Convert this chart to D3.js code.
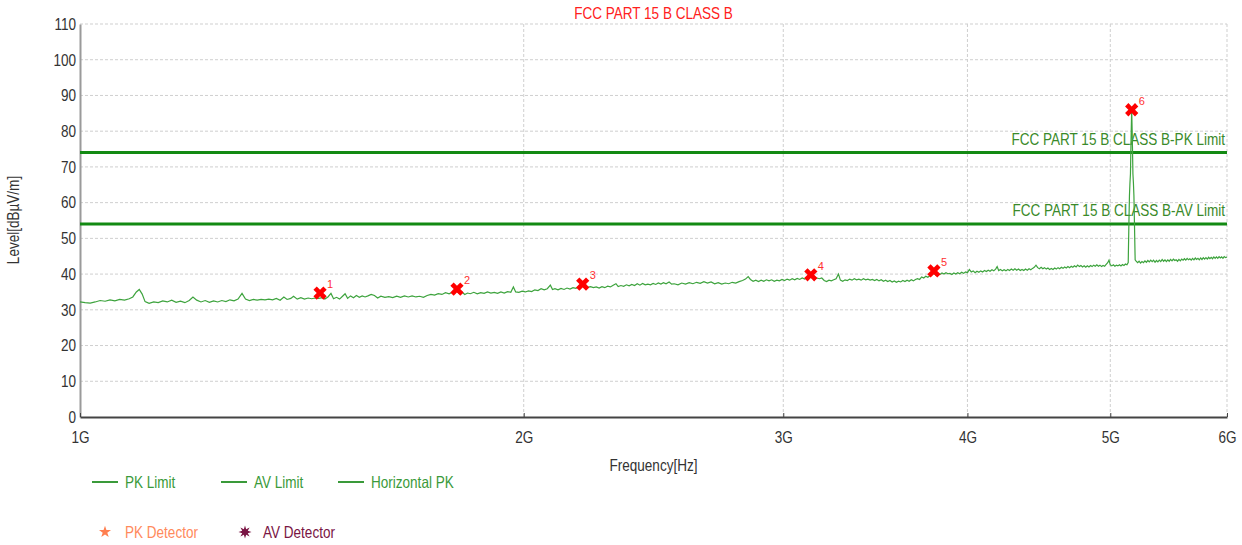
<!DOCTYPE html>
<html>
<head>
<meta charset="utf-8">
<script src="https://cdn.jsdelivr.net/npm/d3@7"></script>
<style>
  html, body { margin: 0; padding: 0; background: #fff; }
  svg { display: block; }
  text { font-family: "Liberation Sans Narrow", "Arial Narrow", "Liberation Sans", Arial, sans-serif; }
</style>
</head>
<body>
<svg id="chart" width="1242" height="545"></svg>
<script>
// ---------------- data ----------------
const chartTitle = "FCC PART 15 B CLASS B";
const xTickMHz = [1000, 2000, 3000, 4000, 5000, 6000];
const xTickLabels = ["1G", "2G", "3G", "4G", "5G", "6G"];
const yTicks = [0, 10, 20, 30, 40, 50, 60, 70, 80, 90, 100, 110];

const pkLimit = 74;
const avLimit = 54;
const pkLimitLabel = "FCC PART 15 B CLASS B-PK Limit";
const avLimitLabel = "FCC PART 15 B CLASS B-AV Limit";

// Horizontal PK trace: [frequency MHz, level dBµV/m]
const horizontalPK = [
[1000,32.2],[1008,32.0],[1016,31.9],[1024,32.2],[1032,32.6],[1040,32.4],[1048,32.8],[1056,32.5],[1064,32.9],[1072,32.7],
[1080,33.1],[1086,33.6],[1092,35.0],[1097,35.7],[1102,34.4],[1107,32.3],[1114,31.8],[1122,32.2],[1130,32.0],[1138,32.5],
[1146,32.2],[1154,32.7],[1162,32.1],[1170,32.4],[1178,32.0],[1186,32.6],[1193,33.6],[1200,32.7],[1208,32.2],[1216,32.6],
[1224,32.1],[1232,32.5],[1240,32.2],[1248,32.6],[1256,32.3],[1264,32.8],[1272,32.5],[1280,33.0],[1288,34.6],[1295,33.0],
[1303,32.6],[1311,32.9],[1319,32.7],[1327,32.9],[1335,32.8],[1343,33.0],[1351,32.8],[1359,33.2],[1367,32.7],[1375,33.6],
[1382,32.9],[1390,33.2],[1396,33.8],[1404,33.0],[1412,33.4],[1420,33.0],[1428,33.3],[1436,33.1],[1444,33.3],[1452,33.2],
[1460,33.4],[1466,33.0],[1473,33.6],[1480,34.6],[1486,33.1],[1493,33.5],[1500,33.0],[1507,33.8],[1513,34.5],[1519,33.2],
[1526,33.9],[1533,33.4],[1540,34.0],[1547,33.5],[1554,33.9],[1561,33.6],[1568,33.9],[1576,34.3],[1584,34.0],[1592,33.3],
[1600,33.8],[1610,33.5],[1620,33.7],[1630,33.4],[1640,33.8],[1650,33.5],[1660,33.9],[1670,33.6],[1680,33.9],[1690,33.6],
[1700,33.8],[1710,33.5],[1720,34.0],[1730,34.3],[1740,34.1],[1750,34.5],[1760,34.3],[1770,34.8],[1780,34.5],[1790,35.0],
[1800,35.3],[1808,34.6],[1816,35.0],[1824,34.3],[1832,34.7],[1840,34.5],[1850,34.9],[1860,34.5],[1870,34.8],[1880,34.6],
[1890,35.0],[1900,34.7],[1910,34.9],[1920,34.6],[1930,35.0],[1940,34.7],[1950,35.1],[1960,34.9],[1968,36.4],[1975,35.0],
[1985,34.9],[1995,35.2],[2005,35.0],[2015,35.3],[2025,35.1],[2035,35.6],[2045,35.4],[2055,35.9],[2065,35.6],[2075,35.9],
[2085,36.9],[2092,35.7],[2100,35.9],[2110,35.6],[2120,36.0],[2130,35.7],[2140,36.1],[2150,35.8],[2160,36.2],[2170,36.0],
[2180,36.5],[2190,36.8],[2200,36.6],[2210,36.3],[2220,36.5],[2230,36.2],[2240,36.4],[2250,36.1],[2260,36.5],[2270,36.2],
[2280,36.6],[2290,36.4],[2300,36.9],[2310,37.3],[2318,36.5],[2328,36.8],[2338,36.6],[2348,37.0],[2358,36.7],[2368,37.1],
[2378,36.8],[2388,37.3],[2398,36.9],[2408,37.4],[2418,37.0],[2428,37.2],[2438,37.0],[2448,37.4],[2458,37.1],[2468,37.5],
[2478,37.2],[2488,37.6],[2498,37.3],[2510,37.8],[2520,37.2],[2530,37.3],[2545,37.0],[2560,37.5],[2575,37.2],[2590,37.6],
[2605,37.3],[2620,37.7],[2635,37.4],[2650,37.9],[2665,37.5],[2680,37.8],[2695,37.3],[2710,37.6],[2725,37.2],[2740,37.5],
[2755,37.3],[2770,37.7],[2785,37.5],[2800,37.9],[2815,38.2],[2828,38.6],[2840,39.3],[2850,38.5],[2862,38.0],[2874,38.3],
[2886,37.9],[2898,38.3],[2910,38.0],[2922,38.4],[2934,38.1],[2946,38.4],[2958,38.0],[2970,38.3],[2982,38.1],[2994,38.5],
[3006,38.2],[3018,38.6],[3030,38.3],[3042,38.7],[3054,38.4],[3066,38.8],[3078,38.5],[3090,38.9],[3102,38.6],[3114,39.0],
[3126,39.4],[3138,38.9],[3150,38.6],[3162,38.9],[3174,38.7],[3186,38.9],[3198,38.2],[3210,37.9],[3222,38.3],[3234,38.1],
[3246,38.4],[3258,38.7],[3270,40.0],[3280,38.3],[3292,38.0],[3304,38.4],[3316,38.2],[3328,38.6],[3340,38.3],[3352,38.7],
[3364,38.4],[3376,38.6],[3388,38.3],[3400,38.7],[3412,38.4],[3424,38.6],[3436,38.3],[3448,38.5],[3460,38.2],[3472,38.5],
[3484,38.1],[3496,38.4],[3508,38.0],[3520,38.3],[3532,37.9],[3544,38.2],[3556,37.8],[3568,38.1],[3580,37.7],[3592,38.0],
[3604,37.8],[3616,38.2],[3628,37.9],[3640,38.3],[3652,38.0],[3664,38.4],[3676,38.1],[3688,38.5],[3700,38.7],[3712,38.5],
[3724,39.2],[3736,38.9],[3748,39.4],[3760,39.1],[3772,39.5],[3784,39.8],[3796,40.2],[3808,39.7],[3820,40.1],[3832,39.9],
[3844,40.3],[3856,40.0],[3868,40.4],[3880,40.1],[3892,40.2],[3904,39.9],[3916,40.3],[3928,40.0],[3940,40.4],[3952,40.1],
[3964,40.5],[3976,40.2],[3988,40.6],[4000,40.4],[4012,41.3],[4024,40.6],[4036,40.9],[4048,40.4],[4060,40.8],[4072,40.5],
[4084,40.9],[4096,40.6],[4108,41.0],[4120,40.7],[4132,41.1],[4144,40.8],[4156,41.2],[4168,40.9],[4180,41.4],[4190,42.1],
[4200,41.0],[4212,41.3],[4224,40.9],[4236,41.2],[4248,40.9],[4260,41.3],[4272,41.0],[4284,41.4],[4296,41.1],[4308,41.5],
[4320,41.1],[4332,41.4],[4344,41.0],[4356,41.3],[4368,41.0],[4380,41.4],[4392,41.1],[4404,41.5],[4416,41.2],[4428,41.6],
[4440,41.9],[4452,42.5],[4464,41.8],[4476,41.5],[4488,41.9],[4500,41.5],[4512,41.8],[4524,41.4],[4536,41.7],[4548,41.3],
[4560,41.6],[4572,41.3],[4584,41.7],[4596,41.4],[4608,41.8],[4620,41.5],[4632,41.9],[4644,41.6],[4656,42.0],[4668,41.7],
[4680,42.1],[4692,41.8],[4704,42.2],[4716,41.9],[4728,42.3],[4740,42.0],[4752,42.5],[4764,42.1],[4776,42.4],[4788,42.0],
[4800,42.3],[4812,41.9],[4824,42.3],[4836,42.0],[4848,42.4],[4860,42.1],[4872,42.5],[4884,42.2],[4896,42.6],[4908,42.2],
[4920,42.5],[4932,42.1],[4944,42.4],[4956,42.2],[4968,42.7],[4980,43.2],[4990,43.9],[5000,42.6],[5012,42.3],[5024,42.6],
[5036,42.2],[5048,42.5],[5060,42.3],[5072,42.6],[5084,42.3],[5096,42.7],[5108,42.4],[5120,42.8],[5132,42.6],[5142,43.2],
[5148,55.0],[5152,62.0],[5156,65.5],[5160,68.0],[5165,78.0],[5170,86.0],[5175,78.0],[5180,68.0],[5184,65.5],[5188,62.0],
[5192,55.0],[5198,44.0],[5206,43.6],[5218,43.2],[5230,43.6],[5242,43.1],[5254,43.5],[5266,43.2],[5278,43.7],[5290,43.3],
[5302,43.8],[5314,43.4],[5326,43.9],[5338,43.5],[5350,43.9],[5362,43.3],[5374,43.8],[5386,43.4],[5398,43.9],[5410,43.5],
[5422,44.1],[5434,43.6],[5446,44.0],[5458,43.5],[5470,44.0],[5482,43.6],[5494,44.1],[5506,43.7],[5518,44.2],[5530,43.8],
[5542,44.0],[5554,43.6],[5566,44.1],[5578,43.7],[5590,44.2],[5602,43.9],[5614,44.3],[5626,43.9],[5638,44.4],[5650,44.0],
[5662,44.3],[5674,43.9],[5686,44.4],[5698,44.0],[5710,44.5],[5722,44.1],[5734,44.4],[5746,44.0],[5758,44.5],[5770,44.1],
[5782,44.6],[5794,44.2],[5806,44.6],[5818,44.2],[5830,44.7],[5842,44.3],[5854,44.7],[5866,44.3],[5878,44.8],[5890,44.4],
[5902,44.8],[5914,44.4],[5926,44.9],[5938,44.5],[5950,44.8],[5962,44.4],[5974,44.9],[5986,44.6],[6000,44.8]
];

// Peak markers
const markerIds = ["1", "2", "3", "4", "5", "6"];
const markerMHz = [1455, 1802, 2193, 3132, 3796, 5170];
const markerLevel = [34.7, 35.8, 37.2, 39.8, 40.9, 86.0];

const legendLines = ["PK Limit", "AV Limit", "Horizontal PK"];
const legendDetectors = ["PK Detector", "AV Detector"];

// ---------------- drawing ----------------
const svg = d3.select("#chart");
const plotL = 80, plotR = 1227, plotT = 24, plotB = 417;
const FF = '"Liberation Sans Narrow", "Arial Narrow", "Liberation Sans", Arial, sans-serif';
const SQUEEZE = 0.82;

// narrow-font emulation: compress text horizontally
function condense(sel, k = SQUEEZE) {
  sel.each(function () {
    const w = this.getComputedTextLength();
    if (w > 0) {
      this.setAttribute("textLength", w * k);
      this.setAttribute("lengthAdjust", "spacingAndGlyphs");
    }
  });
  return sel;
}

const x = d3.scaleLog().domain([1000, 6000]).range([plotL, plotR]);
const y = d3.scaleLinear().domain([0, 110]).range([plotB, plotT]);

const FONT = 16.5;
const gridColor = "#cfcfcf";

// grid: horizontal
svg.append("g").selectAll("line").data(yTicks.filter(d => d > 0)).join("line")
  .attr("x1", plotL).attr("x2", plotR)
  .attr("y1", d => y(d)).attr("y2", d => y(d))
  .attr("stroke", gridColor).attr("stroke-width", 1).attr("stroke-dasharray", "3,2");
// grid: vertical
svg.append("g").selectAll("line").data(xTickMHz.slice(1)).join("line")
  .attr("x1", d => x(d)).attr("x2", d => x(d))
  .attr("y1", plotT).attr("y2", plotB)
  .attr("stroke", gridColor).attr("stroke-width", 1).attr("stroke-dasharray", "3,2");

// y axis
const yAxis = d3.axisLeft(y).tickValues(yTicks).tickSize(0).tickPadding(4);
const gy = svg.append("g").attr("transform", `translate(${plotL},0)`).call(yAxis);
gy.select(".domain").attr("stroke", "#9a9a9a").attr("stroke-width", 2);
condense(gy.selectAll("text").attr("font-size", FONT).attr("fill", "#333").style("font-family", FF));

// x axis
const xAxis = d3.axisBottom(x).tickValues(xTickMHz)
  .tickFormat((d, i) => xTickLabels[i]).tickSize(4).tickSizeOuter(0).tickPadding(10);
const gx = svg.append("g").attr("transform", `translate(0,${plotB})`).call(xAxis);
gx.select(".domain").attr("stroke", "#444").attr("stroke-width", 2);
gx.selectAll(".tick line").attr("stroke", "#444").attr("transform", "translate(0,-4)");
condense(gx.selectAll("text").attr("font-size", FONT).attr("fill", "#333").style("font-family", FF));

// title
condense(svg.append("text").attr("x", (plotL + plotR) / 2).attr("y", 19)
  .attr("text-anchor", "middle").attr("font-size", FONT).attr("fill", "#ff2020")
  .text(chartTitle));

// axis titles
condense(svg.append("text").attr("x", (plotL + plotR) / 2).attr("y", 471)
  .attr("text-anchor", "middle").attr("font-size", FONT).attr("fill", "#333")
  .text("Frequency[Hz]"));
condense(svg.append("text").attr("transform", `translate(19,220) rotate(-90)`)
  .attr("text-anchor", "middle").attr("font-size", FONT).attr("fill", "#333")
  .text("Level[dBµV/m]"));

// limit lines
const limitColor = "#138a13";
[[pkLimit, pkLimitLabel], [avLimit, avLimitLabel]].forEach(([v, lab]) => {
  svg.append("line").attr("x1", plotL).attr("x2", plotR)
    .attr("y1", y(v)).attr("y2", y(v))
    .attr("stroke", limitColor).attr("stroke-width", 3);
  condense(svg.append("text").attr("x", plotR - 2).attr("y", y(v) - 8)
    .attr("text-anchor", "end").attr("font-size", FONT).attr("fill", "#3a8a2a")
    .text(lab));
});

// trace
const line = d3.line().x(d => x(d[0])).y(d => y(d[1]));
svg.append("path").datum(horizontalPK)
  .attr("d", line).attr("fill", "none")
  .attr("stroke", "#3da33d").attr("stroke-width", 1.2);

// markers
const markerSym = d3.symbol().type(d3.symbolCross).size(110);
const mk = svg.append("g").selectAll("g").data(markerIds).join("g")
  .attr("transform", (d, i) => `translate(${x(markerMHz[i])},${y(markerLevel[i])})`);
mk.append("path").attr("d", markerSym()).attr("transform", "rotate(45)").attr("fill", "#ff0000");
mk.append("text").attr("x", 7).attr("y", -5).attr("font-size", 11).attr("fill", "#ff3030")
  .text(d => d);

// legend row 1
const legendColor = "#3a9a3a";
const legX = [92, 221, 338];
legendLines.forEach((lab, i) => {
  svg.append("line").attr("x1", legX[i]).attr("x2", legX[i] + 26)
    .attr("y1", 482).attr("y2", 482).attr("stroke", legendColor).attr("stroke-width", 2);
  condense(svg.append("text").attr("x", legX[i] + 33).attr("y", 488)
    .attr("font-size", FONT).attr("fill", legendColor).text(lab));
});

// legend row 2
svg.append("path").attr("d", d3.symbol().type(d3.symbolStar).size(45)())
  .attr("transform", "translate(105,532)").attr("fill", "#ff7f50");
condense(svg.append("text").attr("x", 125).attr("y", 538).attr("font-size", FONT)
  .attr("fill", "#ff8a5c").text(legendDetectors[0]));
const burst = d3.range(16).map(k => {
  const a = k * Math.PI / 8, r = k % 2 ? 3 : 6.5;
  return [Math.sin(a) * r, -Math.cos(a) * r];
});
svg.append("path").attr("d", d3.line().curve(d3.curveLinearClosed)(burst))
  .attr("transform", "translate(245,532)").attr("fill", "#7a1544");
condense(svg.append("text").attr("x", 263).attr("y", 538).attr("font-size", FONT)
  .attr("fill", "#7a1544").text(legendDetectors[1]));
</script>
</body>
</html>
